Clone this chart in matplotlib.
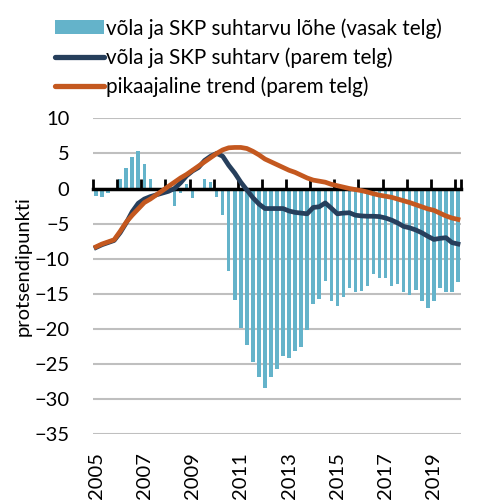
import matplotlib
matplotlib.use('Agg')
import matplotlib.pyplot as plt
from matplotlib.patches import Patch
from matplotlib.lines import Line2D
import numpy as np

plt.rcParams['font.family'] = ['Lato', 'DejaVu Sans']

# quarterly categories 2005Q1 .. 2020Q1
quarters = [f"{y}Q{q}" for y in range(2005, 2021) for q in range(1, 5)][:61]
year_labels = ['2005', '2007', '2009', '2011', '2013', '2015', '2017', '2019']

# credit-to-GDP gap (left axis)
gap = [-1.0, -1.2, -0.7, -0.2, 1.3, 2.9, 4.5, 5.3, 3.5, 1.3,
       0.1, -0.3, -0.6, -2.5, -0.6, 0.7, -1.4, 0.0, 1.4, 1.0,
       -1.2, -3.8, -11.7, -15.9, -19.9, -22.3, -24.7, -26.8, -28.4, -26.8,
       -25.7, -23.8, -24.1, -23.1, -22.6, -20.2, -16.5, -15.7, -13.1, -16.0,
       -16.7, -15.4, -14.1, -14.8, -14.6, -13.85, -12.2, -12.8, -12.8, -13.85,
       -13.6, -14.8, -15.2, -14.4, -16.0, -17.0, -16.0, -14.1, -14.8, -14.8,
       -13.3]

# credit-to-GDP ratio (right axis, shown in left-axis units)
ratio = [-8.4, -8.0, -7.7, -7.4, -6.3, -4.9, -3.3, -2.1, -1.5, -1.15,
         -0.9, -0.65, -0.4, 0.0, 0.8, 1.8, 2.5, 3.0, 4.0, 4.6,
         5.0, 4.6, 3.3, 2.2, 0.9, -0.2, -1.3, -2.2, -2.85, -2.85,
         -2.85, -2.85, -3.2, -3.4, -3.5, -3.6, -2.7, -2.6, -2.05, -2.8,
         -3.6, -3.5, -3.45, -3.8, -3.9, -3.95, -3.95, -4.0, -4.2, -4.5,
         -4.9, -5.4, -5.6, -5.9, -6.3, -6.8, -7.25, -7.1, -7.0, -7.7,
         -7.9]

# long-term trend (right axis, shown in left-axis units)
trend = [-8.3, -7.9, -7.6, -7.3, -6.1, -4.8, -3.8, -2.9, -2.0, -1.5,
         -0.9, -0.3, 0.3, 0.9, 1.5, 2.0, 2.6, 3.2, 3.8, 4.4,
         5.0, 5.5, 5.8, 5.85, 5.85, 5.7, 5.3, 4.8, 4.2, 3.8,
         3.4, 3.0, 2.6, 2.3, 1.9, 1.5, 1.2, 1.05, 0.9, 0.6,
         0.4, 0.2, 0.0, -0.15, -0.3, -0.5, -0.75, -0.95, -1.1, -1.25,
         -1.5, -1.75, -2.0, -2.3, -2.6, -2.9, -3.1, -3.5, -3.9, -4.2,
         -4.4]

series_names = ['võla ja SKP suhtarvu lõhe (vasak telg)',
                'võla ja SKP suhtarv (parem telg)',
                'pikaajaline trend (parem telg)']

c_bar = '#64B3CA'
c_ratio = '#263F5C'
c_trend = '#C4581F'

fig = plt.figure(figsize=(4.8, 5.0), dpi=100)
ax = fig.add_axes([93 / 480, 1 - 434.3 / 500, (461 - 93) / 480, (434.3 - 118.3) / 500])

x = np.arange(len(quarters))
ax.bar(x, gap, width=0.58, color=c_bar, zorder=2)
ax.plot(x, ratio, color=c_ratio, lw=3.4, zorder=4)
ax.plot(x, trend, color=c_trend, lw=3.4, zorder=5)

ax.set_xlim(-0.5, len(quarters) - 0.5)
ax.set_ylim(-35, 10)
ax.set_yticks(range(-35, 11, 5))
ax.yaxis.grid(True, color='#BFBFBF', lw=1.5)
ax.set_axisbelow(True)
for s in ax.spines.values():
    s.set_visible(False)
ax.tick_params(axis='y', length=0, pad=17, labelsize=14.5)
ax.set_xticks(x[::8])
ax.set_xticklabels(year_labels)
ax.tick_params(axis='x', length=0, pad=13, labelsize=14.5, labelrotation=90)

# category axis crossing at zero
sec = ax.secondary_xaxis(35 / 45)
sec.set_xticks(list(np.arange(-0.5, len(quarters) - 1, 4)) + [len(quarters) - 0.5])
sec.tick_params(direction='out', length=7, width=2, labeltop=False,
                labelbottom=False, color='black')
sec.spines['top'].set_linewidth(2.5)
sec.spines['top'].set_color('black')
sec.set_zorder(3)

fig.text(23 / 480, 1 - 266 / 500, 'protsendipunkti', rotation=90,
         ha='center', va='center', fontsize=14.5)

handles = [Patch(facecolor=c_bar, edgecolor='none'),
           Line2D([], [], color=c_ratio, lw=3.8, solid_capstyle='round'),
           Line2D([], [], color=c_trend, lw=3.8, solid_capstyle='round')]
fig.legend(handles, series_names, loc='upper left',
           bbox_to_anchor=(55 / 480, 1 - 18 / 500), frameon=False,
           fontsize=14.9, handlelength=2.35, handleheight=0.65,
           handletextpad=0.12, labelspacing=0.42, borderpad=0, borderaxespad=0)

fig.savefig('out.png', dpi=100)
